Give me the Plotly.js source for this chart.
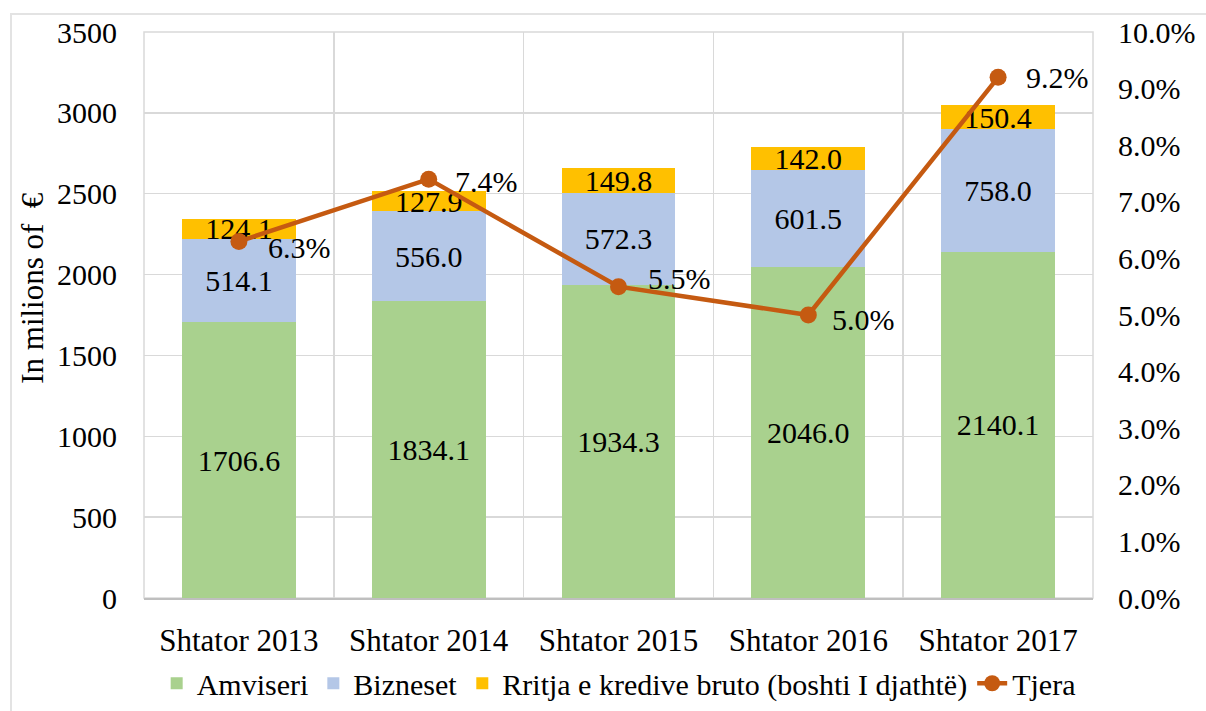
<!DOCTYPE html>
<html>
<head>
<meta charset="utf-8">
<script src="https://cdn.plot.ly/plotly-3.0.1.min.js"></script>
<style>
html,body{margin:0;padding:0;background:#fff;}
#frame{position:absolute;left:10px;top:13px;width:1210px;height:710px;border-left:2px solid #e3e3e3;border-top:2px solid #e3e3e3;}
#chart{position:absolute;left:0;top:0;width:1206px;height:711px;}
</style>
</head>
<body>
<div id="frame"></div>
<div id="chart"></div>
<script>
const categories = ["Shtator 2013","Shtator 2014","Shtator 2015","Shtator 2016","Shtator 2017"];
const amviseri = [1706.6,1834.1,1934.3,2046.0,2140.1];
const bizneset = [514.1,556.0,572.3,601.5,758.0];
const rritja = [124.1,127.9,149.8,142.0,150.4];
const tjera = [6.3,7.4,5.5,5.0,9.2];
const seriesNames = ["Amviseri","Bizneset","Rritja e kredive bruto (boshti I djathtë)","Tjera"];
const yTitle = "In milions of  €";

const FONT = "Liberation Serif, Times New Roman, serif";
const FS = 30;
const barCommon = {
  type:"bar", x:categories, textposition:"inside", insidetextanchor:"middle",
  texttemplate:"%{y:.1f}", textangle:0, constraintext:"none",
  textfont:{family:FONT,size:FS,color:"#000"}, hoverinfo:"skip"
};
const traces = [
  Object.assign({}, barCommon, {name:seriesNames[0], y:amviseri, marker:{color:"#A9D18E"}}),
  Object.assign({}, barCommon, {name:seriesNames[1], y:bizneset, marker:{color:"#B4C7E7"}}),
  Object.assign({}, barCommon, {name:seriesNames[2], y:rritja, marker:{color:"#FFC000"}}),
  {
    type:"scatter", mode:"lines+markers", name:seriesNames[3], x:categories, y:tjera, yaxis:"y2",
    line:{color:"#C55A11", width:4.5}, marker:{color:"#C55A11", size:17}, cliponaxis:false
  }
];

// small nudges of the percentage labels (pixels)
const labelYShift = [-6,-2,8,-4,0];
const labelXShift = [27,24,27,22,26];
const annotations = categories.map((c,i) => ({
  x:c, y:tjera[i], xref:"x", yref:"y2", text:tjera[i].toFixed(1)+"%",
  showarrow:false, xanchor:"left", yanchor:"middle", xshift:labelXShift[i], yshift:labelYShift[i],
  font:{family:FONT,size:FS,color:"#000"}
}));
annotations.push({
  text:yTitle, xref:"paper", yref:"paper", x:-0.117, y:0.548, xanchor:"center", yanchor:"middle",
  textangle:-90, showarrow:false, font:{family:FONT,size:FS+1,color:"#000"}
});

const layout = {
  width:1206, height:711,
  margin:{l:144, r:113, t:32, b:113},
  paper_bgcolor:"rgba(0,0,0,0)", plot_bgcolor:"#fff",
  barmode:"stack", bargap:0.4,
  font:{family:FONT, size:FS, color:"#000"},
  showlegend:true,
  legend:{orientation:"h", xref:"container", yref:"container", x:0.513, xanchor:"center",
          y:0.039, yanchor:"middle",
          traceorder:"normal", font:{family:FONT,size:FS,color:"#000"}, itemwidth:30},
  xaxis:{type:"category", tickson:"boundaries", showgrid:true, gridcolor:"#d9d9d9", gridwidth:1.5,
         showline:true, linecolor:"#bfbfbf", linewidth:2, ticks:"", ticklabelstandoff:14,
         automargin:false, tickfont:{family:FONT,size:31,color:"#000"}},
  yaxis:{range:[0,3500], dtick:500, showgrid:true, gridcolor:"#d9d9d9", gridwidth:1.5,
         zeroline:false, showline:false, ticks:"", ticklabelstandoff:26, automargin:false,
         tickfont:{family:FONT,size:FS,color:"#000"}},
  yaxis2:{range:[0,10], dtick:1, overlaying:"y", side:"right", showgrid:false, zeroline:false,
          tickformat:".1f", ticksuffix:"%", ticks:"", ticklabelstandoff:24, automargin:false,
          tickfont:{family:FONT,size:FS,color:"#000"}},
  annotations: annotations,
  shapes:[{type:"rect", xref:"paper", yref:"paper", x0:0, x1:1, y0:0, y1:1,
           line:{color:"#d9d9d9", width:1.5}, fillcolor:"rgba(0,0,0,0)", layer:"below"}]
};
Plotly.newPlot("chart", traces, layout, {displayModeBar:false, staticPlot:true});
</script>
</body>
</html>
